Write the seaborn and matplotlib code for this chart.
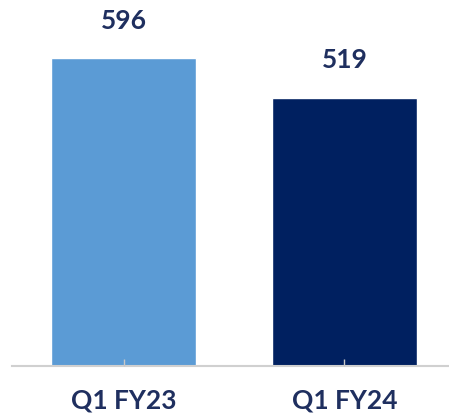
import matplotlib
matplotlib.use('Agg')
import matplotlib.pyplot as plt
import pandas as pd
import seaborn as sns

# -------------------------------------------------------
# data
quarters = ['Q1 FY23', 'Q1 FY24']
values = [596, 519]
bar_colors = ['#5B9BD5', '#002060']
text_color = '#1F2F5F'

df = pd.DataFrame({'quarter': quarters, 'value': values})

# -------------------------------------------------------
# creating the chart
sns.set_style('white')
plt.rcParams['font.family'] = ['Lato', 'DejaVu Sans']

fig = plt.figure(figsize=(4.49, 4.13), dpi=100)
ax = fig.add_axes([12 / 449, 47 / 413, 1 - 12 / 449, 1 - 47 / 413])

sns.barplot(data=df, x='quarter', y='value', hue='quarter', palette=bar_colors,
            width=0.656, legend=False, ax=ax, saturation=1)

# value labels above bars
for i, v in enumerate(values):
    ax.text(i, v + 72, f"{v}", ha='center', va='center', fontsize=19,
            fontweight='bold', color=text_color)

ax.set_xlim(-0.505, 1.473)
ax.set_ylim(0, 708)
ax.set_xlabel('')
ax.set_ylabel('')
ax.set_yticks([])
ax.set_axisbelow(False)

for side in ['top', 'right', 'left']:
    ax.spines[side].set_visible(False)
ax.spines['bottom'].set_color('#D0D0D0')
ax.spines['bottom'].set_linewidth(1.5)

# little tick marks poking up into the bars
ax.tick_params(axis='x', bottom=True, direction='in', length=5, width=1, color='#C8C8C8',
               labelsize=19, labelcolor=text_color, pad=16)
for lbl in ax.get_xticklabels():
    lbl.set_fontweight('bold')

plt.savefig('out.png', dpi=100)
